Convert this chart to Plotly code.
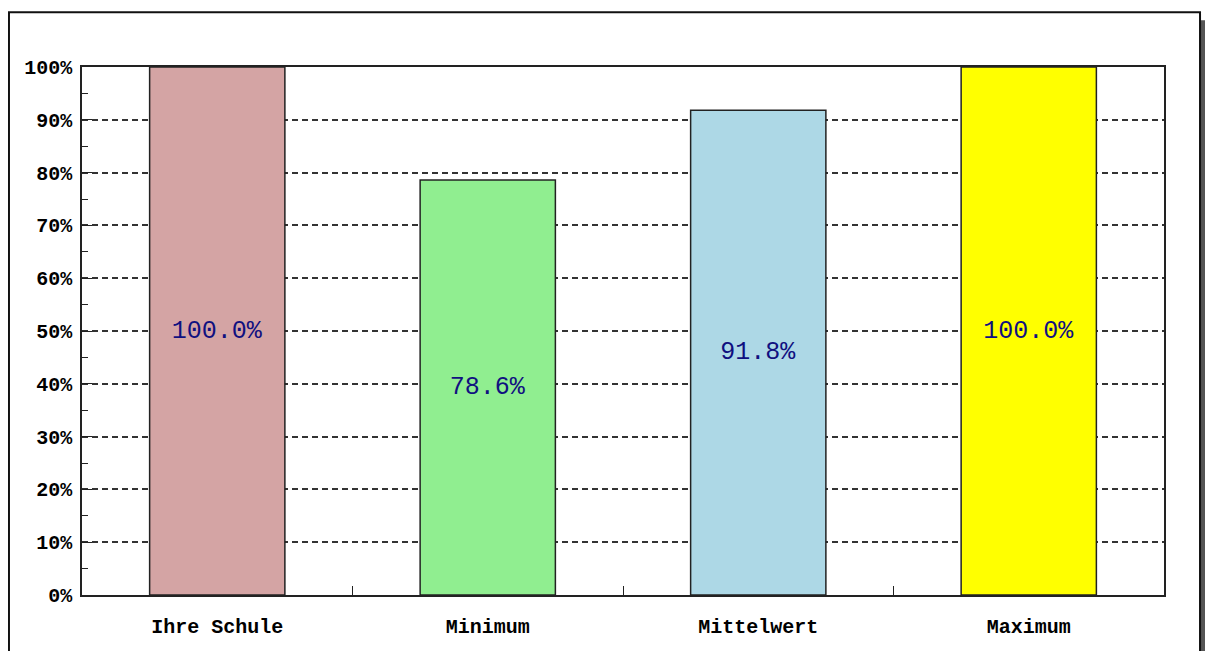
import plotly.graph_objects as go

categories = ["Ihre Schule", "Minimum", "Mittelwert", "Maximum"]
values = [100.0, 78.6, 91.8, 100.0]
bar_colors = ["#d4a4a4", "#90ee90", "#add8e6", "#ffff00"]
y_ticks = list(range(0, 101, 10))
y_tick_labels = [f"{v}%" for v in y_ticks]

fig = go.Figure()
fig.add_trace(go.Bar(
    x=categories,
    y=values,
    width=0.5,
    marker=dict(color=bar_colors, line=dict(color="#222222", width=1.5)),
    text=[f"{v:.1f}%" for v in values],
    textposition="inside",
    insidetextanchor="middle",
    constraintext="none",
    textfont=dict(family="Liberation Mono", size=25, color="#101080"),
    hoverinfo="skip",
))

tick_font = dict(family="Liberation Mono", size=20, color="black", weight="bold")

# page has an 8px body margin, so the figure is sized to fit inside the window
fig.update_layout(
    width=1197, height=643,
    margin=dict(l=74, r=41, t=59, b=53),
    paper_bgcolor="white",
    plot_bgcolor="white",
    showlegend=False,
    xaxis=dict(
        showline=True, linecolor="#222222", linewidth=1.5, mirror=True,
        ticks="inside", tickson="boundaries", ticklen=9, tickcolor="#222222",
        tickfont=tick_font, showgrid=False, ticklabelstandoff=12,
    ),
    yaxis=dict(
        range=[0, 100], tickvals=y_ticks, ticktext=y_tick_labels,
        showline=True, linecolor="#222222", linewidth=1.5, mirror=True,
        ticks="inside", ticklen=10, tickcolor="#222222",
        minor=dict(tickvals=list(range(5, 100, 10)), ticks="inside", ticklen=6, tickcolor="#222222"),
        showgrid=True, gridcolor="#333333", gridwidth=1.5, griddash="6px,4px",
        tickfont=tick_font, ticklabelstandoff=4, zeroline=False,
    ),
    shapes=[
        # shadow
        dict(type="rect", xref="paper", yref="paper",
             x0=1.0342, x1=1.047, y0=-0.13, y1=1.0885,
             fillcolor="#555555", line=dict(width=0), layer="below"),
        # frame
        dict(type="rect", xref="paper", yref="paper",
             x0=-0.0675, x1=1.0333, y0=-0.13, y1=1.1036,
             fillcolor="rgba(0,0,0,0)", line=dict(color="#111111", width=2), layer="above"),
    ],
)

fig.write_html("out.html")
